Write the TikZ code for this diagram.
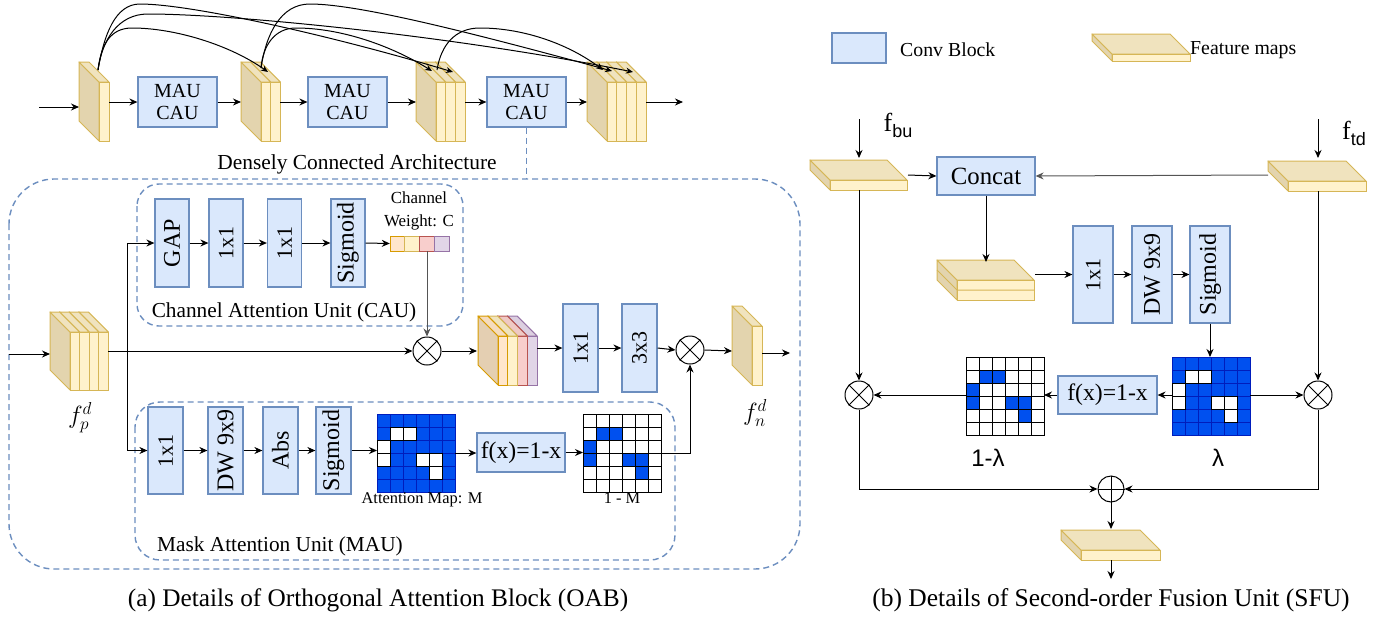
\documentclass[tikz,border=0pt]{standalone}
\usepackage{fontspec}
\setmainfont{Liberation Serif}
\newfontfamily\arialf{Liberation Sans}
\usetikzlibrary{arrows.meta,calc}
\definecolor{blkfill}{HTML}{DAE8FC}
\definecolor{blkdraw}{HTML}{6C8EBF}
\definecolor{fmfront}{HTML}{FFF2CC}
\definecolor{fmdraw}{HTML}{D6B656}
\definecolor{fmtop}{HTML}{F0E3BE}
\definecolor{fmside}{HTML}{E3D4AE}
\definecolor{orfront}{HTML}{FFE6CC}
\definecolor{ordraw}{HTML}{D79B00}
\definecolor{ortop}{HTML}{F5DCBF}
\definecolor{orside}{HTML}{E4CFB2}
\definecolor{pkfront}{HTML}{F8CECC}
\definecolor{pkdraw}{HTML}{B85450}
\definecolor{pktop}{HTML}{EFC9C4}
\definecolor{lvfront}{HTML}{E1D5E7}
\definecolor{lvdraw}{HTML}{9673A6}
\definecolor{lvtop}{HTML}{DCCFE0}
\definecolor{gblue}{HTML}{0050EF}
\definecolor{gline}{HTML}{001DBC}
\definecolor{lgray}{HTML}{555555}
% slab: x, w, ytop, ybot, front, draw, top, side
\newcommand{\slabdraw}[8]{%
  \filldraw[draw=#6,fill=#8,line width=1pt,line join=round] (#1,#3) -- (#1,#4) -- ({#1-20},{#4-20}) -- ({#1-20},{#3-20}) -- cycle;
  \filldraw[draw=#6,fill=#7,line width=1pt,line join=round] (#1,#3) -- ({#1+#2},#3) -- ({#1+#2-20},{#3-20}) -- ({#1-20},{#3-20}) -- cycle;
  \filldraw[draw=#6,fill=#5,line width=1pt] (#1,#3) rectangle ({#1+#2},#4);}
\newcommand{\yfm}[5]{%
  \foreach \k in {#5,...,1}{\pgfmathsetmacro\xx{#1+(\k-1)*#2}\slabdraw{\xx}{#2}{#3}{#4}{fmfront}{fmdraw}{fmtop}{fmside}}}
\newcommand{\bgrid}[2]{%
  \foreach \r in {0,...,5}{\foreach \c in {0,...,5}{\filldraw[fill=gblue,draw=gline,line width=0.8pt] ({#1+13*\c},{#2+13*\r}) rectangle ++(13,13);}}
  \foreach \r/\c in {1/1,1/2,2/0,3/0,3/3,3/4,4/4}{\filldraw[fill=white,draw=black,line width=0.8pt] ({#1+13*\c},{#2+13*\r}) rectangle ++(13,13);}}
\newcommand{\wgrid}[2]{%
  \foreach \r in {0,...,5}{\foreach \c in {0,...,5}{\filldraw[fill=white,draw=black,line width=0.8pt] ({#1+13*\c},{#2+13*\r}) rectangle ++(13,13);}}
  \foreach \r/\c in {1/1,1/2,2/0,3/0,3/3,3/4,4/4}{\filldraw[fill=gblue,draw=black,line width=0.8pt] ({#1+13*\c},{#2+13*\r}) rectangle ++(13,13);}}
\begin{document}
\begin{tikzpicture}[x=1pt,y=-1pt,
  blk/.style={draw=blkdraw, fill=blkfill, line width=1.2pt, inner sep=0pt},
  vt/.style={rotate=90, font=\fontsize{24}{24}\selectfont, inner sep=0pt},
  vs/.style={rotate=90, font=\fontsize{22}{22}\selectfont, inner sep=0pt},
  arr/.style={-{Stealth[length=8pt,width=7pt]}, line width=1pt},
  arcarr/.style={-{Stealth[length=7pt,width=6pt]}, line width=1pt},
  dbox/.style={draw=blkdraw, dash pattern=on 6pt off 4pt, line width=1.4pt},
  op/.style={circle, draw, line width=1pt, minimum size=28pt, inner sep=0pt, fill=white},
  gridn/.style={minimum width=78pt, minimum height=78pt, inner sep=0pt, outer sep=0pt},
  lbl/.style={inner sep=0pt}
]
\useasboundingbox (0,0) rectangle (1389,619);

% ================= (a) top row =================
\yfm{99}{10}{82}{141}{1}
\yfm{261}{9.7}{82}{141}{2}
\yfm{436}{9.7}{82}{141}{3}
\yfm{607}{9.8}{82}{141}{4}
\coordinate (in1) at (39,107);
\coordinate (fm1l) at (79,107);
\coordinate (fm1r) at (109,102);
\coordinate (fm2l) at (241,102);
\coordinate (fm2r) at (280.4,102);
\coordinate (fm3l) at (416,102);
\coordinate (fm3r) at (465.1,102);
\coordinate (fm4l) at (587,102);
\coordinate (fm4r) at (646.2,102);
\coordinate (out1) at (683,102);
\node[blk, minimum width=79pt, minimum height=50pt, align=center, font=\fontsize{20}{22}\selectfont] (b1) at (177.5,102) {MAU\\CAU};
\node[blk, minimum width=79pt, minimum height=50pt, align=center, font=\fontsize{20}{22}\selectfont] (b2) at (347.5,102) {MAU\\CAU};
\node[blk, minimum width=79pt, minimum height=50pt, align=center, font=\fontsize{20}{22}\selectfont] (b3) at (526.5,102) {MAU\\CAU};
\draw[arr] (in1) -- (fm1l);
\draw[arr] (fm1r) -- (b1.west);
\draw[arr] (b1.east) -- (fm2l);
\draw[arr] (fm2r) -- (b2.west);
\draw[arr] (b2.east) -- (fm3l);
\draw[arr] (fm3r) -- (b3.west);
\draw[arr] (b3.east) -- (fm4l);
\draw[arr] (fm4r) -- (out1);
% dense arcs
\coordinate (s1) at (98,70);
\coordinate (s2) at (261,68);
\coordinate (s3) at (437,70);
\coordinate (e12) at (268,72);
\coordinate (e13) at (453,72);
\coordinate (e14) at (633,72);
\coordinate (e23) at (432,71);
\coordinate (e24) at (612,71);
\coordinate (e34) at (603,70);
\draw[arcarr] (s1) .. controls (101,45) and (110,28) .. (132,28) .. controls (175,28) and (230,45) .. (e12);
\draw[arcarr] (s1) .. controls (104,35) and (115,4) .. (140,4) .. controls (190,4) and (330,35) .. (e13);
\draw[arcarr] (s1) .. controls (102,40) and (118,14) .. (148,14) .. controls (230,14) and (450,35) .. (e14);
\draw[arcarr] (s2) .. controls (266,35) and (280,4) .. (310,4) .. controls (360,4) and (480,35) .. (e24);
\draw[arcarr] (s2) .. controls (263,45) and (275,28) .. (296,28) .. controls (340,28) and (390,45) .. (e23);
\draw[arcarr] (s3) .. controls (441,45) and (455,28) .. (480,28) .. controls (525,28) and (570,45) .. (e34);
\node[lbl, font=\fontsize{21.4}{21.4}\selectfont] (dca) at (357,164) {Densely Connected Architecture};

% ================= (a) OAB =================
\draw[dbox, rounded corners=45pt] (9,179) rectangle (800,569);
\coordinate (oabtop) at (526.5,179);
\draw[dbox] (b3.south) -- (oabtop);
\draw[dbox, rounded corners=22pt] (137,184) rectangle (463,326);
\draw[dbox, rounded corners=25pt] (135,402) rectangle (675,560);

% input feature map f_p^d
\yfm{70}{9.6}{332}{390}{4}
\coordinate (inp) at (9,354);
\coordinate (fpl) at (50,354);
\coordinate (fpr) at (108.4,351);
\coordinate (br) at (127,351);
\node[lbl] (fplab) at (80,418) {\fontsize{25}{25}\selectfont $f_p^d$};
\draw[arr] (inp) -- (fpl);

% CAU
\node[blk, minimum width=34pt, minimum height=88pt] (gap) at (172,243) {};
\node[vt] (gapt) at (gap) {GAP};
\node[blk, minimum width=34pt, minimum height=88pt] (ca1) at (226,243) {};
\node[vs] (ca1t) at (ca1) {1x1};
\node[blk, minimum width=34pt, minimum height=88pt] (ca2) at (284.5,243) {};
\node[vs] (ca2t) at (ca2) {1x1};
\node[blk, minimum width=34pt, minimum height=88pt] (csig) at (348,243) {};
\node[vt] (csigt) at (csig) {Sigmoid};
\node[minimum width=59pt, minimum height=15pt, inner sep=0pt] (bar) at (419.5,243.5) {};
\filldraw[fill=orfront, draw=ordraw, line width=1pt] (390,236) rectangle (404.75,251);
\filldraw[fill=fmfront, draw=fmdraw, line width=1pt] (404.75,236) rectangle (419.5,251);
\filldraw[fill=pkfront, draw=pkdraw, line width=1pt] (419.5,236) rectangle (434.25,251);
\filldraw[fill=lvfront, draw=lvdraw, line width=1pt] (434.25,236) rectangle (449,251);
\coordinate (barc) at (427,251);
\node[lbl, font=\fontsize{16.9}{16.9}\selectfont] (chl) at (419,198) {Channel};
\node[lbl, font=\fontsize{16.9}{16.9}\selectfont] (wtl) at (419,222) {Weight: C};
\node[lbl, font=\fontsize{21.3}{21.3}\selectfont] (caul) at (284,312) {Channel Attention Unit (CAU)};
\draw[arr] (br) |- (gap.west);
\draw[arr] (gap.east) -- (ca1.west);
\draw[arr] (ca1.east) -- (ca2.west);
\draw[arr] (ca2.east) -- (csig.west);
\draw[arr] (csig.east) -- (bar.west);

% middle row
\node[op] (c1) at (427,351) {};
\draw[line width=1pt] (c1.north west) -- (c1.south east) (c1.north east) -- (c1.south west);
\draw[arr] (fpr) -- (c1.west);
\draw[arr, draw=lgray] (barc) -- (c1.north);
\slabdraw{527.4}{9.8}{336}{385}{lvfront}{lvdraw}{lvtop}{lvtop}
\slabdraw{517.6}{9.8}{336}{385}{pkfront}{pkdraw}{pktop}{pktop}
\slabdraw{507.8}{9.8}{336}{385}{fmfront}{fmdraw}{fmtop}{fmtop}
\slabdraw{498}{9.8}{336}{385}{orfront}{ordraw}{ortop}{orside}
\coordinate (fmml) at (477,351);
\coordinate (fmmr) at (537.2,348);
\draw[arr] (c1.east) -- (fmml);
\node[blk, minimum width=35pt, minimum height=88pt] (m1) at (580.5,348) {};
\node[vs] (m1t) at (m1) {1x1};
\node[blk, minimum width=35pt, minimum height=88pt] (m3) at (639.5,348) {};
\node[vs] (m3t) at (m3) {3x3};
\draw[arr] (fmmr) -- (m1.west);
\draw[arr] (m1.east) -- (m3.west);
\node[op] (c2) at (690,350) {};
\draw[line width=1pt] (c2.north west) -- (c2.south east) (c2.north east) -- (c2.south west);
\draw[arr] (m3.east) -- (c2.west);
\yfm{752}{10}{326}{385}{1}
\coordinate (fnl) at (732,351);
\coordinate (fnr) at (762,353);
\coordinate (fnend) at (790,353);
\draw[arr] (c2.east) -- (fnl);
\draw[arr] (fnr) -- (fnend);
\node[lbl] (fnlab) at (755,413) {\fontsize{25}{25}\selectfont $f_n^d$};

% MAU
\node[blk, minimum width=35pt, minimum height=87pt] (ma) at (165.5,450.5) {};
\node[vs] (mat) at (ma) {1x1};
\node[blk, minimum width=35pt, minimum height=87pt] (mdw) at (225.5,450.5) {};
\node[vt] (mdwt) at (mdw) {DW 9x9};
\node[blk, minimum width=35pt, minimum height=87pt] (mabs) at (280.5,450.5) {};
\node[vt] (mabst) at (mabs) {Abs};
\node[blk, minimum width=35pt, minimum height=87pt] (msig) at (333.5,450.5) {};
\node[vt] (msigt) at (msig) {Sigmoid};
\draw[arr] (br) |- (ma.west);
\draw[arr] (ma.east) -- (mdw.west);
\draw[arr] (mdw.east) -- (mabs.west);
\draw[arr] (mabs.east) -- (msig.west);
\bgrid{377}{414}
\node[gridn] (gM) at (416,453) {};
\draw[arr] (msig.east) -- (msig.east -| gM.west);
\node[lbl, font=\fontsize{16.4}{16.4}\selectfont] (gMl) at (422,500) {Attention Map: M};
\node[blk, minimum width=88pt, minimum height=39pt, font=\fontsize{23.7}{23.7}\selectfont] (mf) at (521,452.5) {f(x)=1-x};
\draw[arr] (gM.east) -- (gM.east -| mf.west);
\wgrid{583}{414}
\node[gridn] (gIM) at (622,453) {};
\draw[arr] (mf.east) -- (mf.east -| gIM.west);
\node[lbl, font=\fontsize{16.4}{16.4}\selectfont] (gIMl) at (622,498) {1 - M};
\draw[arr] (gIM.east) -| (c2.south);
\node[lbl, font=\fontsize{21.3}{21.3}\selectfont] (maul) at (280,546) {Mask Attention Unit (MAU)};
\node[lbl, font=\fontsize{25.3}{25.3}\selectfont] (capa) at (378,600) {(a) Details of Orthogonal Attention Block (OAB)};

% ================= (b) SFU =================
% legend
\node[blk, minimum width=54pt, minimum height=30pt] (lgb) at (859,48) {};
\node[lbl, anchor=west, font=\fontsize{19.8}{19.8}\selectfont] (lgbt) at (900,50) {Conv Block};
\slabdraw{1112}{78}{54}{61}{fmfront}{fmdraw}{fmtop}{fmside}
\node[lbl, anchor=west, font=\fontsize{19.8}{19.8}\selectfont] (lgft) at (1190,50) {Feature maps};

% inputs
\slabdraw{830}{77}{180}{190}{fmfront}{fmdraw}{fmtop}{fmside}
\slabdraw{1288}{78}{181}{191}{fmfront}{fmdraw}{fmtop}{fmside}
\coordinate (fbuin) at (859,119);
\coordinate (fbut) at (859,158);
\coordinate (fbub) at (859,190);
\coordinate (fbur) at (908,175);
\coordinate (ftdin) at (1318,119);
\coordinate (ftdt) at (1318,158);
\coordinate (ftdb) at (1318,191);
\coordinate (ftdl) at (1268,175);
\draw[arr] (fbuin) -- (fbut);
\draw[arr] (ftdin) -- (ftdt);
\node[lbl, font=\fontsize{26}{26}\selectfont] (fbul) at (898,125) {f\raisebox{-6pt}{\arialf\fontsize{18}{18}\selectfont bu}};
\node[lbl, font=\fontsize{26}{26}\selectfont] (ftdl2) at (1354,133) {f\raisebox{-6pt}{\arialf\fontsize{18}{18}\selectfont td}};
\node[blk, minimum width=98pt, minimum height=38pt, font=\fontsize{24.8}{24.8}\selectfont] (cat) at (986,176) {Concat};
\draw[arr] (fbur) -- (cat.west);
\draw[arr, draw=lgray] (ftdl) -- (cat.east);
% concatenated map
\slabdraw{957}{77}{280}{300}{fmfront}{fmdraw}{fmtop}{fmside}
\draw[draw=fmdraw, line width=1pt] (957,290) -- (1034,290) (957,290) -- (937,270);
\coordinate (fcatt) at (986,262);
\coordinate (fcatr) at (1035,274.5);
\draw[arr] (cat.south) -- (fcatt);
\node[blk, minimum width=40pt, minimum height=97pt] (sa) at (1093,274.5) {};
\node[vs] (sat) at (sa) {1x1};
\node[blk, minimum width=40pt, minimum height=97pt] (sb) at (1152,274.5) {};
\node[vt] (sbt) at (sb) {DW 9x9};
\node[blk, minimum width=40pt, minimum height=97pt] (sc) at (1210,274.5) {};
\node[vt] (sct) at (sc) {Sigmoid};
\draw[arr] (fcatr) -- (sa.west);
\draw[arr] (sa.east) -- (sb.west);
\draw[arr] (sb.east) -- (sc.west);
% lambda maps
\bgrid{1172}{357}
\node[gridn] (glam) at (1211,396) {};
\wgrid{966}{357}
\node[gridn] (glam1) at (1005,396) {};
\draw[arr] (sc.south) -- (sc.south |- glam.north);
\node[blk, minimum width=99pt, minimum height=38pt, font=\fontsize{23.7}{23.7}\selectfont] (sf) at (1107.5,395) {f(x)=1-x};
\draw[arr] (glam.west |- sf.east) -- (sf.east);
\draw[arr] (sf.west) -- (sf.west -| glam1.east);
\node[lbl, font=\arialf\fontsize{24}{24}\selectfont] (laml) at (1218,458) {λ};
\node[lbl, font=\arialf\fontsize{24}{24}\selectfont] (lam1l) at (988,458) {1-λ};
\node[op] (cL) at (859,395) {};
\draw[line width=1pt] (cL.north west) -- (cL.south east) (cL.north east) -- (cL.south west);
\node[op] (cR) at (1318,395) {};
\draw[line width=1pt] (cR.north west) -- (cR.south east) (cR.north east) -- (cR.south west);
\draw[arr] (fbub) -- (cL.north);
\draw[arr] (ftdb) -- (cR.north);
\draw[arr] (glam1.west |- cL.east) -- (cL.east);
\draw[arr] (glam.east |- cR.west) -- (cR.west);
\node[op, minimum size=26pt] (pl) at (1111,489) {};
\draw[line width=1pt] (pl.north) -- (pl.south) (pl.west) -- (pl.east);
\draw[arr] (cL.south) |- (pl.west);
\draw[arr] (cR.south) |- (pl.east);
\slabdraw{1081}{79}{550}{560}{fmfront}{fmdraw}{fmtop}{fmside}
\coordinate (foutt) at (1111,529);
\coordinate (foutb) at (1111,560);
\coordinate (fend) at (1111,579);
\draw[arr] (pl.south) -- (foutt);
\draw[arr] (foutb) -- (fend);
\node[lbl, font=\fontsize{25.5}{25.5}\selectfont] (capb) at (1111,600) {(b) Details of Second-order Fusion Unit (SFU)};
\end{tikzpicture}
\end{document}
